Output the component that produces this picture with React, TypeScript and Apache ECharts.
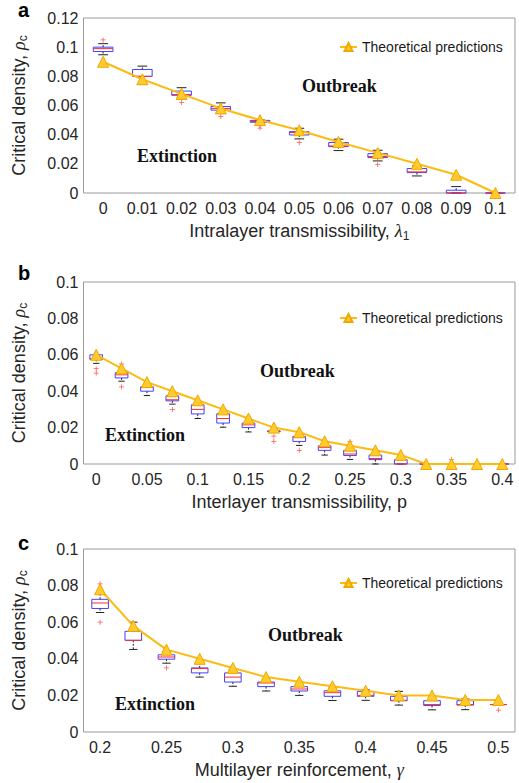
import React, { useEffect, useRef } from "react";
import * as echarts from "echarts";

// ---------- data ----------
const catsA = ["0", "0.01", "0.02", "0.03", "0.04", "0.05", "0.06", "0.07", "0.08", "0.09", "0.1"];
const catsB = ["0", "0.025", "0.05", "0.075", "0.1", "0.125", "0.15", "0.175", "0.2", "0.225", "0.25", "0.275", "0.3", "0.325", "0.35", "0.375", "0.4"];
const catsC = ["0.2", "0.225", "0.25", "0.275", "0.3", "0.325", "0.35", "0.375", "0.4", "0.425", "0.45", "0.475", "0.5"];

// [lower whisker, Q1, median, Q3, upper whisker]
const boxA = [
  [0.0948, 0.097, 0.099, 0.1, 0.1024],
  [0.0747, 0.08, 0.08, 0.0847, 0.087],
  [0.0646, 0.067, 0.0675, 0.0699, 0.0722],
  [0.0545, 0.0568, 0.058, 0.0593, 0.0618],
  [0.048, 0.0485, 0.049, 0.0498, 0.05],
  [0.0371, 0.0398, 0.0415, 0.0421, 0.0444],
  [0.0291, 0.0318, 0.0323, 0.0346, 0.0369],
  [0.022, 0.0243, 0.025, 0.027, 0.0293],
  [0.0117, 0.014, 0.0145, 0.0168, 0.0185],
  [0, 0, 0, 0.0019, 0.0044],
  [0, 0, 0, 0, 0],
];
const outA = [[0, 0.105], [2, 0.062], [3, 0.0525], [4, 0.0463], [4, 0.0445], [5, 0.0345], [7, 0.0195]];
const theoryA = [0.09, 0.078, 0.068, 0.058, 0.05, 0.043, 0.035, 0.0275, 0.02, 0.0125, 0];

const boxB = [
  [0.0553, 0.0575, 0.0578, 0.06, 0.06],
  [0.0455, 0.0473, 0.049, 0.0502, 0.0515],
  [0.0376, 0.04, 0.042, 0.0424, 0.0435],
  [0.0329, 0.0347, 0.0353, 0.0375, 0.039],
  [0.025, 0.0275, 0.03, 0.0325, 0.0335],
  [0.0202, 0.0225, 0.025, 0.0276, 0.029],
  [0.0176, 0.02, 0.0215, 0.0225, 0.024],
  [0.0175, 0.0178, 0.018, 0.0182, 0.0185],
  [0.0102, 0.0124, 0.0145, 0.0151, 0.016],
  [0.0049, 0.0075, 0.009, 0.01, 0.011],
  [0.0025, 0.0047, 0.0055, 0.0075, 0.009],
  [0, 0.0024, 0.003, 0.0049, 0.0065],
  [0, 0, 0, 0.0024, 0.003],
  [0, 0, 0, 0, 0],
  [0, 0, 0, 0, 0],
  [0, 0, 0, 0, 0],
  [0, 0, 0, 0, 0],
];
const outB = [[0, 0.0524], [0, 0.05], [1, 0.0424], [1, 0.055], [3, 0.03], [7, 0.0153], [7, 0.0124], [8, 0.0075], [10, 0.0124], [14, 0.0025]];
const theoryB = [0.06, 0.0525, 0.045, 0.04, 0.035, 0.03, 0.025, 0.02, 0.0175, 0.0125, 0.01, 0.0075, 0.005, 0, 0, 0, 0];

const boxC = [
  [0.0653, 0.0675, 0.0705, 0.0725, 0.076],
  [0.0451, 0.0501, 0.0501, 0.055, 0.06],
  [0.0376, 0.0398, 0.041, 0.0422, 0.044],
  [0.03, 0.0323, 0.0347, 0.035, 0.0374],
  [0.025, 0.0273, 0.03, 0.0323, 0.034],
  [0.0224, 0.0248, 0.0268, 0.0273, 0.029],
  [0.02, 0.0224, 0.0235, 0.0248, 0.026],
  [0.0172, 0.0195, 0.0215, 0.0225, 0.024],
  [0.0173, 0.0195, 0.02, 0.0222, 0.023],
  [0.0147, 0.0171, 0.0173, 0.0195, 0.0222],
  [0.0121, 0.0145, 0.015, 0.0171, 0.018],
  [0.0122, 0.0147, 0.015, 0.0171, 0.018],
  [0.015, 0.015, 0.015, 0.015, 0.015],
];
const outC = [[0, 0.06], [0, 0.081], [2, 0.035], [12, 0.012]];
const theoryC = [0.078, 0.058, 0.045, 0.04, 0.035, 0.03, 0.0275, 0.025, 0.0225, 0.02, 0.02, 0.0175, 0.0175];

const yMaxes = [0.12, 0.1, 0.1];
const legendName = "Theoretical predictions";

// ---------- styles ----------
const SANS = "'Liberation Sans', Arial, sans-serif";
const SERIF = "'Liberation Serif', 'Times New Roman', serif";
const TXT = "#262626";
const FRAME = "#9a9a9a";
const GOLD = "#FDBA12";

const PLUS = "path://M3.4,0h1.2v3.4h3.4v1.2h-3.4v3.4h-1.2v-3.4h-3.4v-1.2h3.4z";

function renderBox(params: any, api: any) {
  const i = api.value(0);
  const lo = api.coord([i, api.value(1)]);
  const q1 = api.coord([i, api.value(2)]);
  const md = api.coord([i, api.value(3)]);
  const q3 = api.coord([i, api.value(4)]);
  const hi = api.coord([i, api.value(5)]);
  const bw = api.size([1, 0])[0] * 0.5;
  const cx = q1[0];
  const cap = bw * 0.5;
  const wk = { stroke: "#222", lineWidth: 1, lineDash: [2, 1.5] };
  const cp = { stroke: "#222", lineWidth: 1 };
  return {
    type: "group",
    children: [
      { type: "line", shape: { x1: cx, y1: q3[1], x2: cx, y2: hi[1] }, style: wk },
      { type: "line", shape: { x1: cx, y1: q1[1], x2: cx, y2: lo[1] }, style: wk },
      { type: "line", shape: { x1: cx - cap / 2, y1: hi[1], x2: cx + cap / 2, y2: hi[1] }, style: cp },
      { type: "line", shape: { x1: cx - cap / 2, y1: lo[1], x2: cx + cap / 2, y2: lo[1] }, style: cp },
      {
        type: "rect",
        shape: { x: cx - bw / 2, y: q3[1], width: bw, height: q1[1] - q3[1] },
        style: { fill: "none", stroke: "#4141ff", lineWidth: 1 },
      },
      {
        type: "line",
        shape: { x1: cx - bw / 2, y1: md[1], x2: cx + bw / 2, y2: md[1] },
        style: { stroke: "#ff2b2b", lineWidth: 1 },
      },
    ],
  };
}

const grids = [
  { left: 77, top: 18, width: 438, height: 175 },
  { left: 77, top: 282, width: 438, height: 182 },
  { left: 77, top: 549, width: 438, height: 183 },
];

const panels = [
  { cats: catsA, box: boxA, out: outA, theory: theoryA, iv: 0, xName: "{n|Intralayer transmissibility, }{i|λ}{s|1}", legendTop: 40 },
  { cats: catsB, box: boxB, out: outB, theory: theoryB, iv: 1, xName: "{n|Interlayer transmissibility, p}", legendTop: 311 },
  { cats: catsC, box: boxC, out: outC, theory: theoryC, iv: 1, xName: "{n|Multilayer reinforcement, }{i|γ}", legendTop: 576 },
];

const richName = {
  n: { fontSize: 18, fontFamily: SANS, color: TXT },
  i: { fontSize: 18, fontFamily: SERIF, fontStyle: "italic", color: TXT },
  s: { fontSize: 12, fontFamily: SANS, color: TXT, lineHeight: 12, padding: [9, 0, 0, 0] },
};

function buildOption() {
  const xAxis: any[] = [];
  const yAxis: any[] = [];
  const series: any[] = [];
  const legend: any[] = [];
  panels.forEach((p, k) => {
    const tick = { inside: true, length: 4, alignWithLabel: true, interval: p.iv, lineStyle: { color: "#8c8c8c" } };
    xAxis.push({
      type: "category",
      gridIndex: k,
      data: p.cats,
      boundaryGap: true,
      axisLine: { show: false },
      axisTick: tick,
      axisLabel: { interval: p.iv, margin: 7, fontSize: 16, fontFamily: SANS, color: TXT },
      name: p.xName,
      nameLocation: "middle",
      nameGap: 29,
      nameTextStyle: { rich: richName },
    });
    xAxis.push({
      type: "category",
      gridIndex: k,
      position: "top",
      data: p.cats,
      boundaryGap: true,
      axisLine: { show: false },
      axisTick: tick,
      axisLabel: { show: false },
    });
    const yt = { inside: true, length: 4, lineStyle: { color: "#8c8c8c" } };
    yAxis.push({
      type: "value",
      gridIndex: k,
      min: 0,
      max: yMaxes[k],
      interval: 0.02,
      axisLine: { show: false },
      axisTick: yt,
      splitLine: { show: false },
      axisLabel: {
        margin: 5,
        fontSize: 16,
        fontFamily: SANS,
        color: TXT,
        formatter: (v: number) => String(+v.toFixed(2)),
      },
      name: "{n|Critical density, }{i|ρ}{s|c}",
      nameLocation: "middle",
      nameGap: 56,
      nameRotate: 90,
      nameTextStyle: { rich: richName },
    });
    yAxis.push({
      type: "value",
      gridIndex: k,
      position: "right",
      min: 0,
      max: yMaxes[k],
      interval: 0.02,
      axisLine: { show: false },
      axisTick: yt,
      splitLine: { show: false },
      axisLabel: { show: false },
    });
    series.push({
      type: "custom",
      xAxisIndex: 2 * k,
      yAxisIndex: 2 * k,
      renderItem: renderBox,
      clip: false,
      encode: { x: 0, y: [1, 2, 3, 4, 5] },
      data: p.box.map((b, i) => [i, ...b]),
      z: 2,
      silent: true,
    });
    series.push({
      type: "scatter",
      xAxisIndex: 2 * k,
      yAxisIndex: 2 * k,
      symbol: PLUS,
      symbolSize: 5,
      itemStyle: { color: "#ff2b2b" },
      data: p.out,
      z: 3,
      silent: true,
    });
    series.push({
      type: "line",
      name: legendName,
      xAxisIndex: 2 * k,
      yAxisIndex: 2 * k,
      data: p.theory,
      symbol: "triangle",
      symbolSize: 11,
      showAllSymbol: true,
      lineStyle: { color: GOLD, width: 2 },
      itemStyle: { color: "#FFCB2E", borderColor: "#F0A800", borderWidth: 1 },
      z: 5,
      clip: false,
    });
    legend.push({
      left: 339,
      top: p.legendTop,
      padding: 0,
      itemWidth: 17,
      itemHeight: 10,
      itemGap: 4,
      selectedMode: false,
      textStyle: { fontSize: 14, fontFamily: SANS, color: "#1a1a1a" },
      data: [legendName],
    });
  });

  const ann = (text: string, x: number, y: number) => ({
    type: "text",
    x,
    y,
    style: { text, fontSize: 18, fontWeight: "bold", fontFamily: SERIF, fill: "#111", verticalAlign: "middle" },
  });
  const letter = (text: string, y: number) => ({
    type: "text",
    x: 18,
    y,
    style: { text, fontSize: 20, fontWeight: "bold", fontFamily: SANS, fill: "#000", verticalAlign: "middle" },
  });

  return {
    animation: false,
    backgroundColor: "#fff",
    grid: grids.map((g) => ({ ...g, show: true, borderColor: FRAME, borderWidth: 1, backgroundColor: "transparent" })),
    xAxis,
    yAxis,
    legend,
    series,
    graphic: [
      letter("a", 10),
      letter("b", 273),
      letter("c", 543),
      ann("Outbreak", 302, 86),
      ann("Extinction", 137, 156),
      ann("Outbreak", 260, 371),
      ann("Extinction", 105, 435),
      ann("Outbreak", 268, 635),
      ann("Extinction", 115, 704),
    ],
  };
}

export default function App() {
  const ref = useRef<HTMLDivElement>(null);
  useEffect(() => {
    if (!ref.current) return;
    const chart = echarts.init(ref.current, undefined, { renderer: "svg" });
    chart.setOption(buildOption() as any);
    return () => chart.dispose();
  }, []);
  return (
    <div
      ref={ref}
      style={{ position: "absolute", left: 0, top: 0, width: 519, height: 783, background: "#fff" }}
    />
  );
}
